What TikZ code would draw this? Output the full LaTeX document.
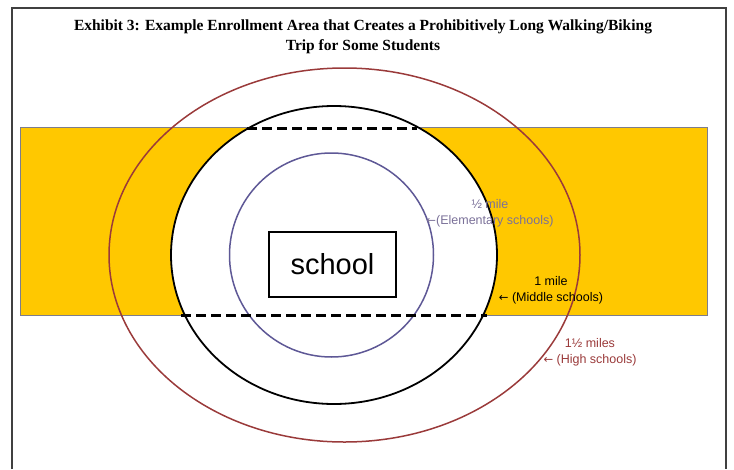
\documentclass[tikz,border=0pt]{standalone}
\usepackage{fontspec}
\setmainfont{Liberation Sans}
\newfontfamily\titlefont{Liberation Serif}
\newfontfamily\arrowfont{DejaVu Sans}
\usetikzlibrary{positioning}
\definecolor{zoneyellow}{HTML}{FFC800}
\definecolor{zoneedge}{HTML}{7D7D8C}
\definecolor{highred}{HTML}{9A3A3A}
\definecolor{elempurple}{HTML}{5E5896}
\definecolor{elemtext}{HTML}{7B7199}
\definecolor{frameline}{HTML}{404040}
\newcommand{\lft}{{\arrowfont\fontsize{11.5}{16}\selectfont ←}}
\tikzset{
  ringline/.style={line width=1.5pt},
  milelabel/.style={font=\fontsize{12.5}{16}\selectfont,align=center,inner sep=0pt},
  chord/.style={line width=3pt,dash pattern=on 10pt off 5pt}
}
\begin{document}
\begin{tikzpicture}[x=1pt,y=-1pt]
      \useasboundingbox (0,0) rectangle (734,469);
      \draw[frameline,line width=1.2pt] (12,469) -- (12,8) -- (726,8) -- (726,469);

      \node (title) at (363,37) [align=center,font=\titlefont\bfseries\fontsize{15.5}{20}\selectfont]
        {Exhibit 3: Example Enrollment Area that Creates a Prohibitively Long Walking/Biking\\Trip for Some Students};

      \draw[zoneedge,fill=zoneyellow,line width=0.9pt] (20.5,127.5) rectangle (707,315);
      \draw[highred,ringline] (344.5,255) ellipse [x radius=235.5,y radius=187];
      \draw[black,fill=white,line width=1.8pt] (334,255) ellipse [x radius=163,y radius=149];
      \draw[elempurple,ringline] (331.5,255) circle [radius=102];

      \coordinate (t1) at (247,128);
      \coordinate (t2) at (417,128);
      \coordinate (b1) at (181,315);
      \coordinate (b2) at (487,315);
      \draw[chord] (t1) -- (t2);
      \draw[chord] (b1) -- (b2);

      \node (school) at (332.5,264.5) [draw,line width=1.4pt,minimum width=127pt,minimum height=65pt,
        font=\fontsize{29}{34}\selectfont] {school};

      \begin{scope}[every node/.style={milelabel}]
        \node[text=elemtext] (half) at (490,213.5) {½ mile\\\lft(Elementary schools)};
        \node[text=black] (one) at (551,290.5) {1 mile\\\lft\ (Middle schools)};
        \node[text=highred] (onehalf) at (590,352.5) {1½ miles\\\lft\ (High schools)};
      \end{scope}

    \end{tikzpicture}
\end{document}
